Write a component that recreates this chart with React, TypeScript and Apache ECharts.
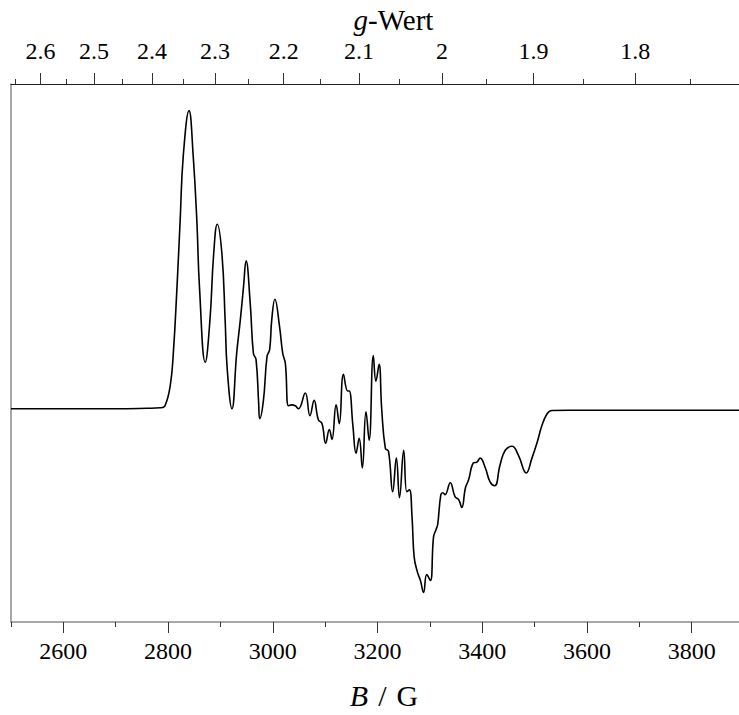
import React, { useEffect, useRef } from "react";
import * as echarts from "echarts";

// h·ν/μB in Gauss (converts g-value <-> field B = C / g)
const FIELD_CONST = 6646;

// Magnetic field B / G
const fieldB = [2500, 2600, 2700, 2760, 2785, 2794, 2804, 2810, 2817, 2823, 2829, 2840, 2848, 2855, 2860, 2871, 2880, 2887, 2894, 2903, 2909, 2913, 2922, 2931, 2938, 2944, 2949, 2957, 2963, 2968, 2973, 2975, 2982, 2989, 2994, 2998, 3004, 3013, 3019, 3024, 3030, 3036, 3043, 3049, 3062, 3071, 3079, 3087, 3094, 3101, 3108, 3113, 3121, 3127, 3135, 3143, 3146, 3153, 3159, 3165, 3171, 3178, 3184, 3192, 3197, 3203, 3208, 3215, 3221, 3229, 3236, 3242, 3250, 3256, 3261, 3266, 3270, 3276, 3282, 3288, 3294, 3301, 3307, 3312, 3315, 3321, 3325, 3329, 3339, 3348, 3355, 3361, 3368, 3374, 3383, 3390, 3396, 3406, 3415, 3424, 3434, 3444, 3457, 3469, 3484, 3495, 3505, 3514, 3524, 3533, 3600, 3700, 3800, 3900];

// EPR signal (first derivative), arbitrary units
const signal = [0, 0, 0, 0.5, 1, 3, 23, 56, 123, 190, 256, 302, 256, 190, 123, 47, 90, 156, 187, 156, 90, 40, 0, 56, 90, 123, 150, 106, 56, 50, 6, -10, 8, 53, 60, 90, 111, 83, 56, 46, 3, 4, 3, 0, 16, -7, 8.5, -11, -15, -35, -21, -31, 4, -15, 35, 18, 18, -17, -45, -30, -60, -3, -32, 54, 28, 45, 0, -40, -43, -84, -50, -90, -42, -84, -82, -110, -150, -165, -174, -186, -168, -174, -130, -122, -117, -87, -85, -87, -75, -89, -92, -100, -80, -72, -55, -54, -50, -60, -74, -78, -57, -42, -38, -47, -65, -50, -34, -17, -5, -1.7, -1.5, -1.5, -1.5, -1.5];

// Bottom axis ticks (G)
const fieldMajor = [2600, 2800, 3000, 3200, 3400, 3600, 3800];
const fieldMinor = [2500, 2700, 2900, 3100, 3300, 3500, 3700, 3900];

// Top axis ticks (g-values)
const gMajor = [2.6, 2.5, 2.4, 2.3, 2.2, 2.1, 2.0, 1.9, 1.8];
const gMinor = [2.65, 2.55, 2.45, 2.35, 2.25, 2.15, 2.05, 1.95, 1.85, 1.75];

const FIELD_MIN = 2500;
const FIELD_MAX = 3900;
const Y_MIN = -216;
const Y_MAX = 329;

const SERIF = "Liberation Serif";

export default function App() {
  const ref = useRef<HTMLDivElement>(null);

  useEffect(() => {
    if (!ref.current) return;
    const chart = echarts.init(ref.current, undefined, { renderer: "svg" });

    const gToB = (g: number) => FIELD_CONST / g;
    const fmtG = (v: number) => String(Number((FIELD_CONST / v).toFixed(2)));

    const baseAxis = {
      type: "value" as const,
      min: FIELD_MIN,
      max: FIELD_MAX,
      splitLine: { show: false },
      axisLine: { show: false, onZero: false },
    };

    const option: any = {
      animation: false,
      backgroundColor: "#ffffff",
      textStyle: { fontFamily: SERIF, color: "#000" },
      grid: { left: 11, top: 84, width: 733, height: 545 },
      xAxis: [
        {
          ...baseAxis,
          position: "bottom",
          axisLine: { show: true, onZero: false, lineStyle: { color: "#8a8a8a", width: 1.5 } },
          axisTick: {
            show: true,
            inside: false,
            length: 11,
            customValues: fieldMajor,
            lineStyle: { color: "#333", width: 1 },
          },
          axisLabel: {
            show: true,
            customValues: fieldMajor,
            formatter: (v: number) => String(Math.round(v)),
            margin: 17,
            fontFamily: SERIF,
            fontSize: 24,
            color: "#000",
          },
          name: "{i|B}{s|/}{n|G}",
          nameLocation: "middle",
          nameGap: 58,
          nameTextStyle: {
            color: "#000",
            fontSize: 30,
            fontFamily: SERIF,
            padding: [0, 0, 0, 13],
            rich: {
              i: { fontStyle: "italic", fontSize: 30, fontFamily: SERIF, color: "#000" },
              s: { fontSize: 30, fontFamily: SERIF, color: "#000", padding: [0, 10, 0, 10] },
              n: { fontSize: 30, fontFamily: SERIF, color: "#000" },
            },
          },
        },
        {
          ...baseAxis,
          position: "bottom",
          axisTick: {
            show: true,
            inside: false,
            length: 5,
            customValues: fieldMinor,
            lineStyle: { color: "#333", width: 1 },
          },
          axisLabel: { show: false },
        },
        {
          ...baseAxis,
          position: "top",
          axisLine: { show: true, onZero: false, lineStyle: { color: "#222", width: 1.2 } },
          axisTick: {
            show: true,
            inside: false,
            length: 11,
            customValues: gMajor.map(gToB),
            lineStyle: { color: "#333", width: 1 },
          },
          axisLabel: {
            show: true,
            customValues: gMajor.map(gToB),
            formatter: (v: number) => fmtG(v),
            margin: 21,
            fontFamily: SERIF,
            fontSize: 24,
            color: "#000",
          },
          name: "{i|g}-Wert",
          nameLocation: "middle",
          nameGap: 47,
          nameTextStyle: {
            color: "#000",
            fontSize: 29,
            fontFamily: SERIF,
            padding: [0, 0, 0, 32],
            rich: { i: { fontStyle: "italic", fontSize: 29, fontFamily: SERIF, color: "#000" } },
          },
        },
        {
          ...baseAxis,
          position: "top",
          axisTick: {
            show: true,
            inside: false,
            length: 5,
            customValues: gMinor.map(gToB),
            lineStyle: { color: "#333", width: 1 },
          },
          axisLabel: { show: false },
        },
      ],
      yAxis: {
        type: "value",
        min: Y_MIN,
        max: Y_MAX,
        axisLine: { show: true, onZero: false, lineStyle: { color: "#8a8a8a", width: 1.5 } },
        axisTick: { show: false },
        axisLabel: { show: false },
        splitLine: { show: false },
      },
      series: [
        {
          type: "line",
          xAxisIndex: 0,
          yAxisIndex: 0,
          data: fieldB.map((b, i) => [b, signal[i]]),
          showSymbol: false,
          smooth: 0.45,
          lineStyle: { color: "#000", width: 1.6 },
        },
      ],
    };

    chart.setOption(option);
    return () => chart.dispose();
  }, []);

  return (
    <div
      style={{
        position: "fixed",
        left: 0,
        top: 0,
        width: 739,
        height: 715,
        overflow: "hidden",
        background: "#fff",
      }}
    >
      <div ref={ref} style={{ width: 760, height: 715 }} />
    </div>
  );
}
